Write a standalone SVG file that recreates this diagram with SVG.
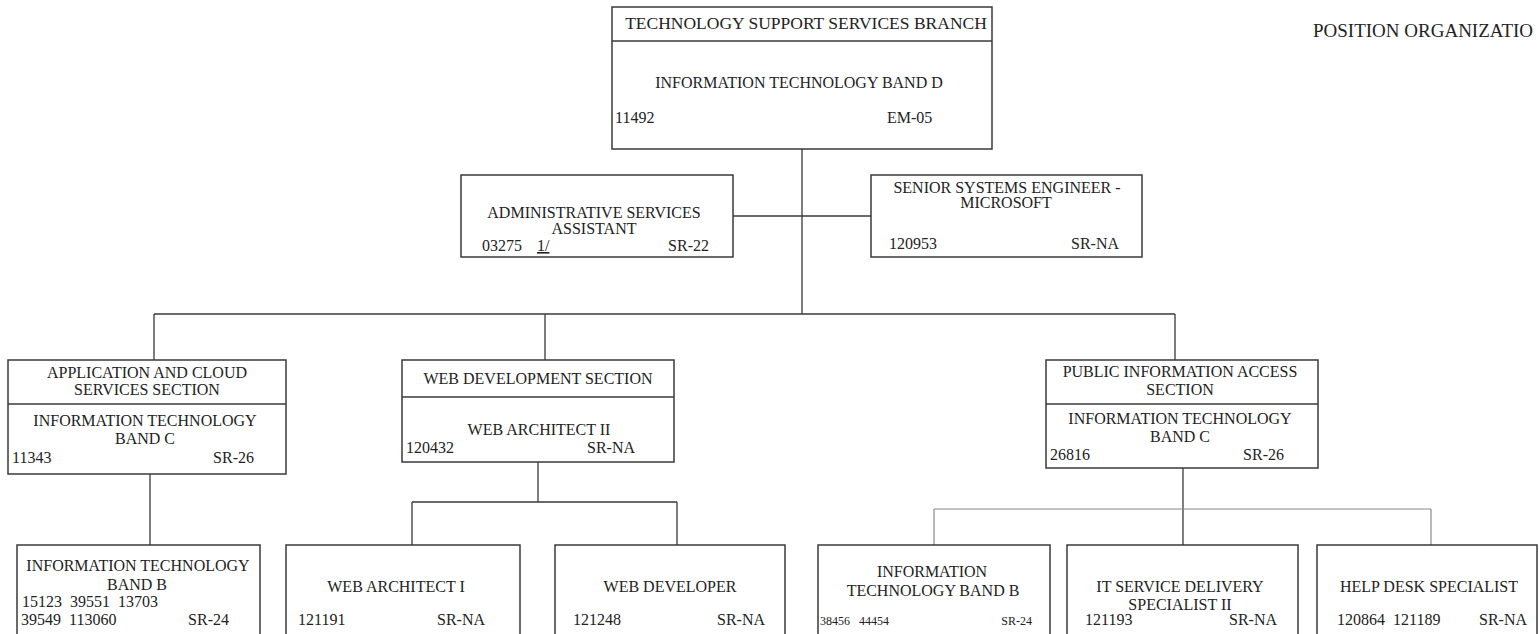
<svg xmlns="http://www.w3.org/2000/svg" width="1539" height="634" viewBox="0 0 1539 634">
  <style>
    .box { fill: #ffffff; stroke: #3a3a3a; stroke-width: 1.5; }
    .div { stroke: #3a3a3a; stroke-width: 1.5; }
    .ln { fill: none; stroke: #3a3a3a; stroke-width: 1.3; }
    .ln-lt { fill: none; stroke: #8a8a8a; stroke-width: 1.2; }
    text { font-family: "Liberation Serif", "Times New Roman", serif; font-size: 16px; fill: #222222; }
    .c { text-anchor: middle; }
    .r { text-anchor: end; }
    .sm { font-size: 12px; }
    .title { font-size: 17.5px; }
    .heading { font-size: 19px; }
  </style>
  <rect width="1539" height="634" fill="#ffffff"/>

  <text class="heading" x="1313" y="37">POSITION ORGANIZATIO</text>

  <!-- connectors -->
  <g id="connectors">
    <path class="ln" d="M802 149 V314"/>
    <path class="ln" d="M733 216 H871"/>
    <path class="ln" d="M154 314 H1175"/>
    <path class="ln" d="M154 314 V360 M545 314 V360 M1175 314 V360"/>
    <path class="ln" d="M150 474 V545"/>
    <path class="ln" d="M538 462 V502 M412 502 H677 M412 502 V545 M677 502 V545"/>
    <path class="ln" d="M1183 468 V545"/>
    <path class="ln-lt" d="M934 509 H1431 M934 509 V545 M1431 509 V545"/>
  </g>

  <!-- branch head -->
  <g id="branch">
    <rect class="box" x="612" y="7" width="380" height="142"/>
    <line class="div" x1="612" y1="41" x2="992" y2="41"/>
    <text class="c title" x="806" y="29">TECHNOLOGY SUPPORT SERVICES BRANCH</text>
    <text class="c" x="799" y="88">INFORMATION TECHNOLOGY BAND D</text>
    <text x="615" y="123">11492</text>
    <text x="887" y="123">EM-05</text>
  </g>

  <g id="admin-assistant">
    <rect class="box" x="461" y="175" width="272" height="82"/>
    <text class="c" x="594" y="218">ADMINISTRATIVE SERVICES</text>
    <text class="c" x="594" y="234">ASSISTANT</text>
    <text x="482" y="251">03275</text>
    <text x="537" y="251" text-decoration="underline">1/</text>
    <text class="r" x="709" y="251">SR-22</text>
  </g>

  <g id="senior-engineer">
    <rect class="box" x="871" y="175" width="271" height="82"/>
    <text class="c" x="1007" y="193">SENIOR SYSTEMS ENGINEER -</text>
    <text class="c" x="1006" y="208">MICROSOFT</text>
    <text x="889" y="249">120953</text>
    <text class="r" x="1119" y="249">SR-NA</text>
  </g>

  <g id="app-cloud-section">
    <rect class="box" x="8" y="360" width="278" height="114"/>
    <line class="div" x1="8" y1="404" x2="286" y2="404"/>
    <text class="c" x="147" y="378">APPLICATION AND CLOUD</text>
    <text class="c" x="147" y="395">SERVICES SECTION</text>
    <text class="c" x="145" y="426">INFORMATION TECHNOLOGY</text>
    <text class="c" x="145" y="444">BAND C</text>
    <text x="12" y="463">11343</text>
    <text class="r" x="254" y="463">SR-26</text>
  </g>

  <g id="web-dev-section">
    <rect class="box" x="402" y="360" width="272" height="102"/>
    <line class="div" x1="402" y1="397" x2="674" y2="397"/>
    <text class="c" x="538" y="384">WEB DEVELOPMENT SECTION</text>
    <text class="c" x="539" y="435">WEB ARCHITECT II</text>
    <text x="406" y="453">120432</text>
    <text class="r" x="635" y="453">SR-NA</text>
  </g>

  <g id="public-access-section">
    <rect class="box" x="1046" y="360" width="272" height="108"/>
    <line class="div" x1="1046" y1="404" x2="1318" y2="404"/>
    <text class="c" x="1180" y="377">PUBLIC INFORMATION ACCESS</text>
    <text class="c" x="1180" y="395">SECTION</text>
    <text class="c" x="1180" y="424">INFORMATION TECHNOLOGY</text>
    <text class="c" x="1180" y="442">BAND C</text>
    <text x="1050" y="460">26816</text>
    <text class="r" x="1284" y="460">SR-26</text>
  </g>

  <g id="it-band-b-app">
    <rect class="box" x="17" y="545" width="243" height="100"/>
    <text class="c" x="138" y="571">INFORMATION TECHNOLOGY</text>
    <text class="c" x="137" y="590">BAND B</text>
    <text x="22" y="607" xml:space="preserve">15123  39551  13703</text>
    <text x="21" y="625" xml:space="preserve">39549  113060</text>
    <text class="r" x="229" y="625">SR-24</text>
  </g>

  <g id="web-architect-1">
    <rect class="box" x="286" y="545" width="234" height="100"/>
    <text class="c" x="396" y="592">WEB ARCHITECT I</text>
    <text x="298" y="625">121191</text>
    <text class="r" x="485" y="625">SR-NA</text>
  </g>

  <g id="web-developer">
    <rect class="box" x="555" y="545" width="230" height="100"/>
    <text class="c" x="670" y="592">WEB DEVELOPER</text>
    <text x="573" y="625">121248</text>
    <text class="r" x="765" y="625">SR-NA</text>
  </g>

  <g id="it-band-b-public">
    <rect class="box" x="818" y="545" width="232" height="100"/>
    <text class="c" x="932" y="577">INFORMATION</text>
    <text class="c" x="933" y="596">TECHNOLOGY BAND B</text>
    <text class="sm" x="820" y="625">38456</text>
    <text class="sm" x="859" y="625">44454</text>
    <text class="sm r" x="1032" y="625">SR-24</text>
  </g>

  <g id="it-service-delivery">
    <rect class="box" x="1067" y="545" width="231" height="100"/>
    <text class="c" x="1180" y="592">IT SERVICE DELIVERY</text>
    <text class="c" x="1180" y="610">SPECIALIST II</text>
    <text x="1085" y="625">121193</text>
    <text class="r" x="1277" y="625">SR-NA</text>
  </g>

  <g id="help-desk">
    <rect class="box" x="1317" y="545" width="220" height="100"/>
    <text class="c" x="1429" y="592">HELP DESK SPECIALIST</text>
    <text x="1337" y="625" xml:space="preserve">120864  121189</text>
    <text class="r" x="1527" y="625">SR-NA</text>
  </g>
</svg>
